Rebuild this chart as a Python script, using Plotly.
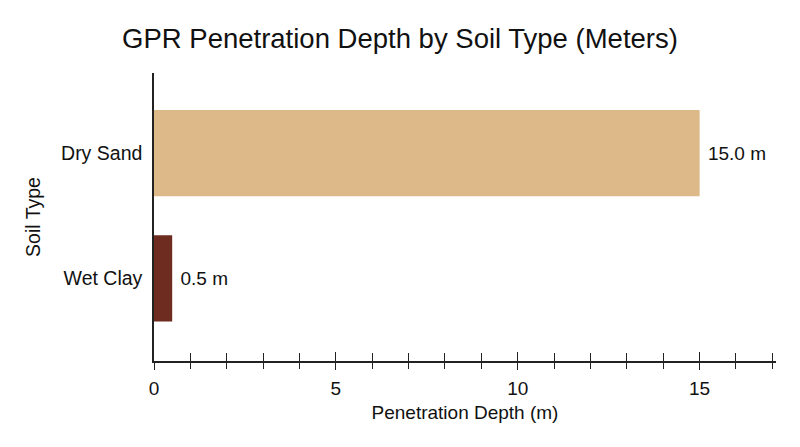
import plotly.graph_objects as go

# data
soil_types = ['Wet Clay', 'Dry Sand']
depth_m = [0.5, 15.0]
bar_colors = ['#6E2B1F', '#DDB98A']
bar_labels = ['0.5 m', '15.0 m']

x_range = [0, 17.1]
font_family = 'Liberation Sans, Arial, sans-serif'

fig = go.Figure()
fig.add_trace(go.Bar(
    y=soil_types, x=depth_m, orientation='h',
    marker=dict(color=bar_colors, line=dict(width=0)),
    text=bar_labels, texttemplate=' %{text}', textposition='outside', cliponaxis=False,
    textfont=dict(size=19, color='#111111'),
    width=0.69, showlegend=False, hoverinfo='skip',
))
# invisible trace so the second (tick-only) x axis is drawn
fig.add_trace(go.Scatter(x=x_range, y=soil_types, xaxis='x2', mode='markers',
                         marker=dict(opacity=0), showlegend=False, hoverinfo='skip'))

# the page body adds ~8px, so margins are pulled in a bit to compensate
fig.update_layout(
    width=800, height=447,
    paper_bgcolor='white', plot_bgcolor='white',
    font=dict(family=font_family, color='#111111'),
    title=dict(text='GPR Penetration Depth by Soil Type (Meters)',
               x=0.49, xanchor='center', y=0.932, yanchor='middle',
               font=dict(size=27.5, color='#111111')),
    margin=dict(l=146, r=32, t=65, b=94),
    xaxis=dict(range=x_range, showgrid=False, zeroline=False,
               showline=True, linecolor='#222222', linewidth=1.5,
               tickmode='array', tickvals=[0, 5, 10, 15],
               ticks='outside', ticklen=7, tickcolor='#222222', tickwidth=1,
               minor=dict(dtick=1, tick0=0, ticks='outside', ticklen=6,
                          tickcolor='#222222', tickwidth=1, showgrid=False),
               tickfont=dict(size=19), ticklabelstandoff=2,
               title=dict(text='Penetration Depth (m)', font=dict(size=19), standoff=8)),
    xaxis2=dict(range=x_range, overlaying='x', side='bottom', anchor='y',
                showgrid=False, zeroline=False, showline=False,
                showticklabels=False,
                tickmode='array', tickvals=[0, 5, 10, 15],
                ticks='inside', ticklen=9, tickcolor='#222222', tickwidth=1,
                minor=dict(dtick=1, tick0=0, ticks='inside', ticklen=8,
                           tickcolor='#222222', tickwidth=1, showgrid=False)),
    yaxis=dict(range=[-0.66, 1.64], showgrid=False, zeroline=False,
               showline=True, linecolor='#222222', linewidth=1.5,
               ticks='', tickfont=dict(size=19.5), ticklabelstandoff=6,
               title=dict(text='Soil Type', font=dict(size=19.5), standoff=15)),
)

fig.write_html('out.html')
